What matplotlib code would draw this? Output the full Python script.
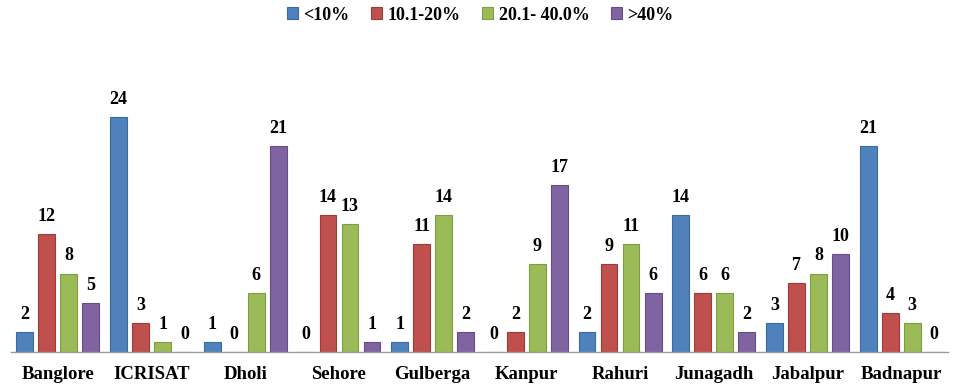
#!/usr/bin/env python3
"""Grouped bar chart of damage classes by location."""
import matplotlib
matplotlib.use("Agg")
import matplotlib.pyplot as plt
import numpy as np

locations = ["Banglore", "ICRISAT", "Dholi", "Sehore", "Gulberga",
             "Kanpur", "Rahuri", "Junagadh", "Jabalpur", "Badnapur"]
series = ["<10%", "10.1-20%", "20.1- 40.0%", ">40%"]
lt10 = [2, 24, 1, 0, 1, 0, 2, 14, 3, 21]
p10_20 = [12, 3, 0, 14, 11, 2, 9, 6, 7, 4]
p20_40 = [8, 1, 6, 13, 14, 9, 11, 6, 8, 3]
gt40 = [5, 0, 21, 1, 2, 17, 6, 2, 10, 0]

colors = ["#4F81BD", "#C0504D", "#9BBB59", "#8064A2"]
edges = ["#3A6A9E", "#9E3B38", "#7F9C45", "#654E85"]

plt.rcParams["font.family"] = ["Liberation Serif", "DejaVu Serif"]

fig = plt.figure(figsize=(9.57, 3.89), dpi=100)
ax = fig.add_axes([11 / 957, 37 / 389, 937 / 957, 312 / 389])

x = np.arange(len(locations))
pitch = 0.235
width = 0.18
for i, (vals, c, e, name) in enumerate(zip([lt10, p10_20, p20_40, gt40],
                                           colors, edges, series)):
    pos = x + (i - 1.5) * pitch
    ax.bar(pos, vals, width, color=c, edgecolor=e, linewidth=0.8, label=name)
    for px, v in zip(pos, vals):
        ax.annotate(str(v), (px, v), xytext=(0, 6.5), textcoords="offset points",
                    ha="center", va="bottom", fontsize=13, fontweight="bold")

ax.set_xlim(-0.5, len(locations) - 0.5)
ax.set_ylim(0, 31.8)
ax.set_yticks([])
ax.set_xticks(x, locations, fontsize=13.5, fontweight="bold")
ax.tick_params(axis="x", length=0, pad=10)
for s in ["top", "right", "left"]:
    ax.spines[s].set_visible(False)
ax.spines["bottom"].set_color("#9a9a9a")
ax.spines["bottom"].set_linewidth(1)

fig.legend(loc="upper center", bbox_to_anchor=(0.502, 1.025), ncol=4,
           frameon=False, prop={"size": 13, "weight": "bold"},
           handlelength=0.6, handleheight=0.6, handletextpad=0.3,
           columnspacing=1.2)

fig.savefig("out.png", dpi=100, facecolor="white")
